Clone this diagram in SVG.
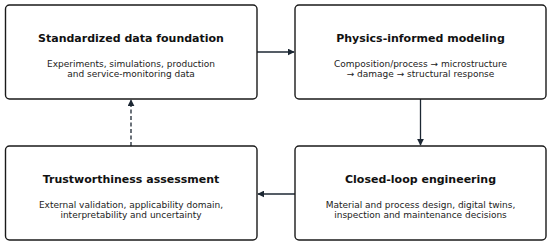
<svg xmlns="http://www.w3.org/2000/svg" width="550" height="246" viewBox="0 0 550 246">
<style>
.box{fill:#fff;stroke:#1a1a1a;stroke-width:1.4}
.t{font-family:"DejaVu Sans",sans-serif;font-weight:bold;font-size:11px;fill:#111;text-anchor:middle}
.s{font-family:"DejaVu Sans",sans-serif;font-size:9px;fill:#222;text-anchor:middle}
.c{stroke:#1c2733;stroke-width:1.3;fill:none}
</style>
<defs>
<marker id="ah" viewBox="0 0 10 10" refX="9" refY="5" markerWidth="7" markerHeight="7" markerUnits="userSpaceOnUse" orient="auto">
<path d="M0,0 L10,5 L0,10 z" fill="#1c2733"/>
</marker>
</defs>
<rect width="550" height="246" fill="#fff"/>
<g id="connectors">
<line class="c" x1="257" y1="52" x2="294" y2="52" marker-end="url(#ah)"/>
<line class="c" x1="420.5" y1="99" x2="420.5" y2="145" marker-end="url(#ah)"/>
<line class="c" x1="295" y1="194" x2="258" y2="194" marker-end="url(#ah)"/>
<line class="c" x1="131" y1="146" x2="131" y2="100" stroke-dasharray="4,2.5" marker-end="url(#ah)"/>
</g>
<g id="node1">
<rect class="box" x="5.5" y="5" width="251.5" height="94" rx="4"/>
<text class="t" x="131" y="42">Standardized data foundation</text>
<text class="s" x="131" y="66.5">Experiments, simulations, production</text>
<text class="s" x="131" y="77">and service-monitoring data</text>
</g>
<g id="node2">
<rect class="box" x="295" y="5" width="251" height="94" rx="4"/>
<text class="t" x="420.5" y="42">Physics-informed modeling</text>
<text class="s" x="420.5" y="66.5">Composition/process → microstructure</text>
<text class="s" x="420.5" y="77">→ damage → structural response</text>
</g>
<g id="node3">
<rect class="box" x="5.5" y="146" width="251.5" height="94" rx="4"/>
<text class="t" x="131" y="183">Trustworthiness assessment</text>
<text class="s" x="131" y="207.5">External validation, applicability domain,</text>
<text class="s" x="131" y="218">interpretability and uncertainty</text>
</g>
<g id="node4">
<rect class="box" x="295" y="146" width="251" height="94" rx="4"/>
<text class="t" x="420.5" y="183">Closed-loop engineering</text>
<text class="s" x="420.5" y="207.5">Material and process design, digital twins,</text>
<text class="s" x="420.5" y="218">inspection and maintenance decisions</text>
</g>
</svg>
